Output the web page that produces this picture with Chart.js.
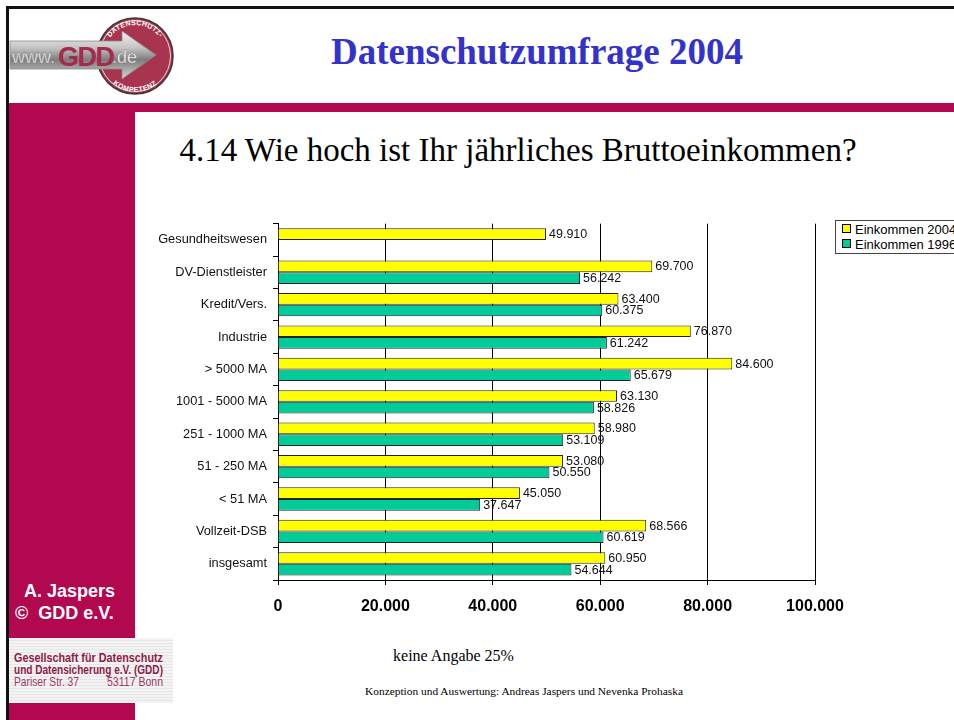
<!DOCTYPE html>
<html>
<head>
<meta charset="utf-8">
<script src="https://cdn.jsdelivr.net/npm/chart.js@4.4.1/dist/chart.umd.min.js"></script>
<style>
  html, body { margin: 0; padding: 0; background: #fff; }
  body { width: 954px; height: 720px; position: relative; overflow: hidden; font-family: Arial, "Liberation Sans", sans-serif; }
  .abs { position: absolute; }
  #frameTop { left: 6px; top: 6px; width: 948px; height: 3px; background: #111; }
  #frameLeft { left: 6px; top: 6px; width: 3px; height: 714px; background: #111; }
  #band { left: 9px; top: 103px; width: 945px; height: 9px; background: #b1084f; }
  #side { left: 9px; top: 103px; width: 126px; height: 617px; background: #b1084f; }
  #addr { left: 9px; top: 638px; width: 164px; height: 65px;
          background: repeating-linear-gradient(180deg, #f3f3f3 0px, #f3f3f3 2px, #e6e6e6 2px, #e6e6e6 3px); }
  #addr .ln { position: absolute; white-space: nowrap; line-height: 13px; transform-origin: 0 0; display: inline-block; }
  #addr .l1 { left: 5px; top: 13px; font-size: 13.5px; font-weight: bold; color: #8e1c45; }
  #addr .l2 { left: 5px; top: 25px; font-size: 13.5px; font-weight: bold; color: #8e1c45; }
  #addr .l3a { left: 5px; top: 38px; font-size: 12px; color: #9b3a60; }
  #addr .l3b { left: 98px; top: 38px; font-size: 12px; color: #9b3a60; }
  #author { left: 9px; top: 580px; width: 126px; color: #fff; font-weight: bold; font-size: 18px; line-height: 23px; }
  #author div { position: absolute; white-space: nowrap; }
  #title { left: 180px; top: 30px; width: 714px; text-align: center; font-family: "Liberation Serif", "Times New Roman", serif;
           font-weight: bold; font-size: 37px; color: #3333cc; white-space: nowrap; }
  #question { left: 150px; top: 132px; width: 736px; text-align: center; font-family: "Liberation Serif", "Times New Roman", serif;
              font-size: 33px; color: #000; white-space: nowrap; }
  #note { left: 300px; top: 647px; width: 307px; text-align: center; font-family: "Liberation Serif", "Times New Roman", serif;
          font-size: 16px; color: #000; white-space: nowrap; }
  #credit { left: 300px; top: 685px; width: 448px; text-align: center; font-family: "Liberation Serif", "Times New Roman", serif;
            font-size: 11.4px; color: #000; white-space: nowrap; }
  #chartBox { left: 140px; top: 210px; width: 814px; height: 420px; }
  #legend { left: 835px; top: 220px; width: 140px; height: 32px; border: 1px solid #444; background: #fff; }
  #legend .item { position: absolute; left: 6px; font-size: 13px; color: #000; white-space: nowrap; line-height: 14px; }
  #legend .sw { display: inline-block; width: 7px; height: 7px; border: 1px solid #000; margin-right: 4px; vertical-align: 1px; }
</style>
</head>
<body>
  <div id="frameTop" class="abs"></div>
  <div id="frameLeft" class="abs"></div>
  <div id="band" class="abs"></div>
  <div id="side" class="abs"></div>

  <svg class="abs" style="left:0;top:0" width="200" height="100" viewBox="0 0 200 100">
    <defs>
      <linearGradient id="metal" x1="0" y1="0" x2="0" y2="1">
        <stop offset="0" stop-color="#f2f2f2"/>
        <stop offset="0.35" stop-color="#c4c4c4"/>
        <stop offset="0.6" stop-color="#7d7d7d"/>
        <stop offset="1" stop-color="#d6d6d6"/>
      </linearGradient>
      <path id="arcTop" d="M 104 56 A 31 31 0 0 1 166 56"/>
      <path id="arcBot" d="M 101 58 A 34 34 0 0 0 169 58"/>
    </defs>
    <circle cx="135" cy="56" r="38" fill="#a8344f" stroke="#3a3a3a" stroke-width="1.5"/>
    <circle cx="135" cy="56" r="35.5" fill="none" stroke="#f4d8df" stroke-width="1"/>
    <text font-family="Arial, sans-serif" font-weight="bold" font-size="7" fill="#fff" letter-spacing="0.3">
      <textPath href="#arcTop" startOffset="50%" text-anchor="middle">DATENSCHUTZ-</textPath>
    </text>
    <text font-family="Arial, sans-serif" font-weight="bold" font-size="7" fill="#fff" letter-spacing="0.5">
      <textPath href="#arcBot" startOffset="50%" text-anchor="middle">KOMPETENZ</textPath>
    </text>
    <polygon points="10,41 122,41 122,31 156,55 122,79 122,69 10,69" fill="url(#metal)" stroke="#8a8a8a" stroke-width="0.8"/>
    <text x="12" y="63" font-family="Arial, sans-serif" font-size="18" fill="#fff" stroke="#777" stroke-width="0.4">www.</text>
    <text x="58" y="66" font-family="Arial, sans-serif" font-weight="bold" font-size="27" fill="#a8284e" letter-spacing="-1.5">GDD</text>
    <text x="112" y="63" font-family="Arial, sans-serif" font-size="18" fill="#fff" stroke="#777" stroke-width="0.4">.de</text>
  </svg>

  <div id="title" class="abs">Datenschutzumfrage 2004</div>
  <div id="question" class="abs">4.14 Wie hoch ist Ihr jährliches Bruttoeinkommen?</div>

  <div id="chartBox" class="abs"><canvas id="chart" width="814" height="420"></canvas></div>
  <div id="legend" class="abs"></div>

  <div id="author" class="abs">
    <div style="left:15px;top:0">A. Jaspers</div>
    <div style="left:6px;top:22px">©&nbsp; GDD e.V.</div>
  </div>
  <div id="addr" class="abs">
    <span class="ln l1" data-w="149">Gesellschaft für Datenschutz</span>
    <span class="ln l2" data-w="149">und Datensicherung e.V. (GDD)</span>
    <span class="ln l3a" data-w="65">Pariser Str. 37</span>
    <span class="ln l3b" data-w="56">53117 Bonn</span>
  </div>

  <div id="note" class="abs">keine Angabe 25%</div>
  <div id="credit" class="abs">Konzeption und Auswertung: Andreas Jaspers und Nevenka Prohaska</div>

<script>
// Condensed address lines: squeeze each line to its column width
document.querySelectorAll('#addr .ln').forEach(el => {
  const w = el.getBoundingClientRect().width;
  const target = parseFloat(el.dataset.w);
  if (w > 0) el.style.transform = 'scaleX(' + (target / w) + ')';
});

// Sectors / company sizes, top to bottom
const categories = [
  'Gesundheitswesen', 'DV-Dienstleister', 'Kredit/Vers.', 'Industrie',
  '> 5000 MA', '1001 - 5000 MA', '251 - 1000 MA', '51 - 250 MA',
  '< 51 MA', 'Vollzeit-DSB', 'insgesamt'
];
// Annual gross income in Euro
const income2004 = [49910, 69700, 63400, 76870, 84600, 63130, 58980, 53080, 45050, 68566, 60950];
const income1996 = [null, 56242, 60375, 61242, 65679, 58826, 53109, 50550, 37647, 60619, 54644];
const seriesNames = ['Einkommen 2004', 'Einkommen 1996'];
const seriesColors = ['#ffff00', '#00cc99'];
const xTicks = [0, 20000, 40000, 60000, 80000, 100000];

// German thousands separator: 49910 -> "49.910"
function fmt(v) {
  return String(Math.round(v)).replace(/\B(?=(\d{3})+(?!\d))/g, '.');
}

// Writes each bar's value just past its end
const valueLabels = {
  id: 'valueLabels',
  afterDatasetsDraw(chart) {
    const ctx = chart.ctx;
    ctx.save();
    ctx.font = '12.5px Arial, "Liberation Sans", sans-serif';
    ctx.fillStyle = '#111';
    ctx.textAlign = 'left';
    ctx.textBaseline = 'middle';
    chart.data.datasets.forEach((ds, di) => {
      const meta = chart.getDatasetMeta(di);
      meta.data.forEach((bar, i) => {
        const v = ds.data[i];
        if (v === null || v === undefined) return;
        ctx.fillText(fmt(v), bar.x + 3, bar.y + 0.5);
      });
    });
    ctx.restore();
  }
};

const chart = new Chart(document.getElementById('chart'), {
  type: 'bar',
  data: {
    labels: categories,
    datasets: [
      { label: seriesNames[0], data: income2004, backgroundColor: seriesColors[0],
        borderColor: '#222', borderWidth: 1, borderSkipped: 'start' },
      { label: seriesNames[1], data: income1996, backgroundColor: seriesColors[1],
        borderColor: '#222', borderWidth: 1, borderSkipped: 'start' }
    ]
  },
  options: {
    indexAxis: 'y',
    responsive: false,
    animation: false,
    devicePixelRatio: 1,
    categoryPercentage: 0.72,
    barPercentage: 1.0,
    layout: { padding: { top: 12, right: 139, bottom: 0, left: 0 } },
    plugins: { legend: { display: false }, tooltip: { enabled: false } },
    scales: {
      x: {
        min: xTicks[0],
        max: xTicks[xTicks.length - 1],
        afterBuildTicks(scale) { scale.ticks = xTicks.map(v => ({ value: v })); },
        afterFit(scale) { scale.height = 50; },
        ticks: {
          callback: v => fmt(v),
          font: { family: 'Arial, "Liberation Sans", sans-serif', size: 16, weight: 'bold' },
          color: '#000',
          padding: 12,
          maxRotation: 0
        },
        grid: { color: '#000', lineWidth: 1, tickLength: 5, drawTicks: true },
        border: { display: true, color: '#000', width: 1 }
      },
      y: {
        afterFit(scale) { scale.width = 138; },
        ticks: {
          font: { family: 'Arial, "Liberation Sans", sans-serif', size: 12.8 },
          color: '#111',
          padding: 6,
          autoSkip: false
        },
        grid: { drawOnChartArea: false, color: '#000', tickLength: 5, offset: true },
        border: { display: true, color: '#000', width: 1 }
      }
    }
  },
  plugins: [valueLabels]
});

// Legend entries built from the datasets
const legend = document.getElementById('legend');
chart.data.datasets.forEach((ds, i) => {
  const item = document.createElement('div');
  item.className = 'item';
  item.style.top = (2 + i * 15) + 'px';
  const sw = document.createElement('span');
  sw.className = 'sw';
  sw.style.background = ds.backgroundColor;
  item.appendChild(sw);
  item.appendChild(document.createTextNode(ds.label));
  legend.appendChild(item);
});
</script>
</body>
</html>
